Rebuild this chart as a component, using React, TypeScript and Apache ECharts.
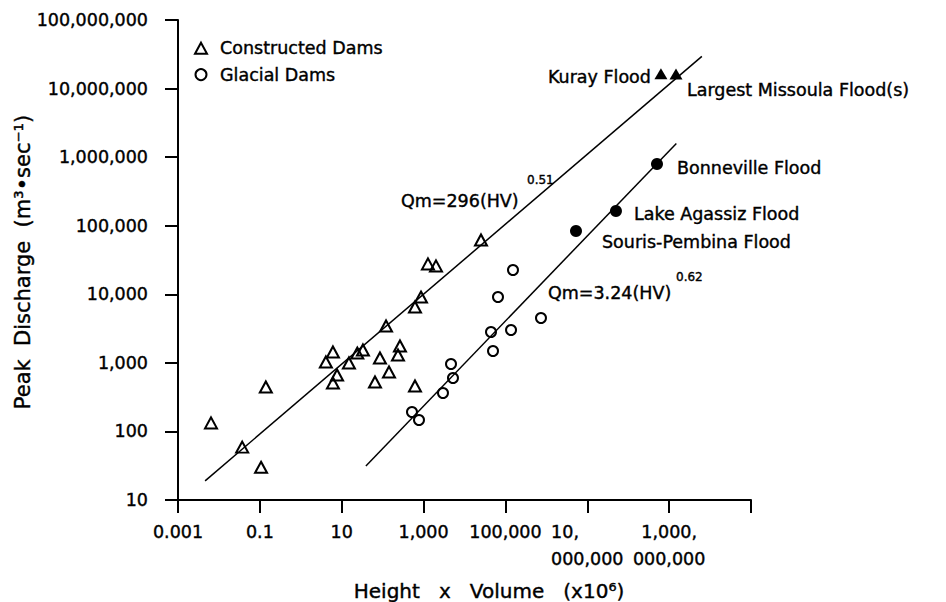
import React, { useEffect, useRef } from 'react';
import * as echarts from 'echarts';

// ---- data: height x volume (x10^6) against peak discharge (m^3/s) ----

// constructed (man-made) dam failures
const damHV = [0.0064, 0.037, 0.14, 0.107, 4.1, 6.1, 7.7, 6.1, 15, 24, 33, 65, 86, 143, 121, 237, 265, 617, 617, 865, 1280, 2010, 25300];
const damQ = [133, 59, 445, 30, 1030, 1440, 665, 508, 995, 1390, 1540, 526, 1178, 736, 3450, 1303, 1763, 460, 6530, 9120, 27700, 25900, 61900];

// historic glacial-dam outbursts
const glacialHV = [153000, 65800, 739000, 44400, 137000, 49700, 4680, 5230, 2980, 521, 773];
const glacialQ = [22600, 9120, 4510, 2820, 3010, 1490, 962, 601, 363, 192, 147];

// prehistoric ice-dammed megafloods (filled triangles)
const iceFloodNames = ['Kuray Flood', 'Largest Missoula Flood(s)'];
const iceFloodHV = [6.3e8, 1.47e9];
const iceFloodQ = [1.65e7, 1.63e7];

// prehistoric lake-breakout floods (filled circles)
const lakeFloodNames = ['Bonneville Flood', 'Lake Agassiz Flood', 'Souris-Pembina Flood'];
const lakeFloodHV = [5.05e8, 5.02e7, 5.3e6];
const lakeFloodQ = [794000, 164000, 83700];

// regression lines Qm = a (HV)^b, drawn over the HV span they cover
const fitCoef = [296, 3.24];
const fitExp = [0.51, 0.62];
const fitFrom = [0.0046, 39];
const fitTo = [6.3e9, 1.5e9];

// tick labels, one per labelled decade
const xTickLabels = ['0.001', '0.1', '10', '1,000', '100,000', '10,        \n000,000', '1,000,\n000,000', ''];
const yTickLabels = ['10', '100', '1,000', '10,000', '100,000', '1,000,000', '10,000,000', '100,000,000'];

// ---- styling ----
const FONT = 'DejaVu Sans';
const INK = '#000';
const TXT = 17.5;
const HEAVY = 0.4; // slight outline so the type reads a little heavier

// label placement for the named floods: [align, dx, dy]
const iceLabelPlace: [string, number, number][] = [
  ['right', -10, 3],
  ['left', 11, 16],
];
const lakeLabelPlace: [string, number, number][] = [
  ['left', 20, 4],
  ['left', 18, 3],
  ['left', 26, 11],
];

const lg = (v: number) => Math.log10(v);

const textLook = {
  color: INK,
  fontFamily: FONT,
  fontSize: TXT,
  textBorderColor: INK,
  textBorderWidth: HEAVY,
};

function fitLine(i: number) {
  return [fitFrom[i], fitTo[i]].map((hv) => [lg(hv), lg(fitCoef[i]) + fitExp[i] * lg(hv)]);
}

function namedPoints(names: string[], hv: number[], q: number[], place: [string, number, number][]) {
  return names.map((n, i) => ({
    name: n,
    value: [lg(hv[i]), lg(q[i])],
    label: {
      show: true,
      position: 'inside',
      align: place[i][0],
      verticalAlign: 'middle',
      offset: [place[i][1], place[i][2]],
      formatter: '{b}',
      ...textLook,
    },
  }));
}

function note(text: string, x: number, y: number, size: number, extra: any = {}) {
  return {
    type: 'text',
    x,
    y,
    ...extra,
    style: {
      text,
      fill: INK,
      stroke: INK,
      lineWidth: HEAVY,
      fontFamily: FONT,
      fontSize: size,
      align: extra.rotation ? 'center' : extra.align || 'left',
      verticalAlign: 'middle',
    },
  };
}

const hollow = { color: 'rgba(255,255,255,0)', borderColor: INK, borderWidth: 2, opacity: 1 };

const option: any = {
  animation: false,
  backgroundColor: '#fff',
  grid: { left: 178, top: 20, width: 573, height: 480 },
  legend: {
    data: ['Constructed Dams', 'Glacial Dams'],
    orient: 'vertical',
    left: 189,
    top: 34,
    itemWidth: 12,
    itemHeight: 11,
    itemGap: 8,
    selectedMode: false,
    textStyle: { ...textLook, padding: [0, 0, 0, 8] },
  },
  xAxis: {
    type: 'value',
    min: -3,
    max: 11,
    interval: 2,
    axisLine: { show: true, onZero: false, lineStyle: { color: INK, width: 2 } },
    axisTick: { show: true, length: 13, lineStyle: { color: INK, width: 2 } },
    splitLine: { show: false },
    axisLabel: {
      ...textLook,
      margin: 18,
      lineHeight: 27,
      showMinLabel: true,
      showMaxLabel: true,
      formatter: (v: number) => xTickLabels[Math.round((v + 3) / 2)] ?? '',
    },
  },
  yAxis: {
    type: 'value',
    min: 1,
    max: 8,
    interval: 1,
    axisLine: { show: true, onZero: false, lineStyle: { color: INK, width: 2 } },
    axisTick: { show: true, length: 13, lineStyle: { color: INK, width: 2 } },
    splitLine: { show: false },
    axisLabel: {
      ...textLook,
      margin: 30,
      showMinLabel: true,
      showMaxLabel: true,
      formatter: (v: number) => yTickLabels[Math.round(v - 1)] ?? '',
    },
  },
  series: [
    {
      type: 'line',
      data: fitLine(0),
      symbol: 'none',
      silent: true,
      lineStyle: { color: INK, width: 1.5 },
    },
    {
      type: 'line',
      data: fitLine(1),
      symbol: 'none',
      silent: true,
      lineStyle: { color: INK, width: 1.5 },
    },
    {
      name: 'Constructed Dams',
      type: 'scatter',
      symbol: 'triangle',
      symbolSize: [12, 11],
      itemStyle: hollow,
      data: damHV.map((h, i) => [lg(h), lg(damQ[i])]),
    },
    {
      name: 'Glacial Dams',
      type: 'scatter',
      symbol: 'circle',
      symbolSize: 10,
      itemStyle: hollow,
      data: glacialHV.map((h, i) => [lg(h), lg(glacialQ[i])]),
    },
    {
      name: 'Ice-dam floods',
      type: 'scatter',
      symbol: 'triangle',
      symbolSize: [13, 11],
      itemStyle: { color: INK, opacity: 1 },
      data: namedPoints(iceFloodNames, iceFloodHV, iceFloodQ, iceLabelPlace),
    },
    {
      name: 'Lake floods',
      type: 'scatter',
      symbol: 'circle',
      symbolSize: 12,
      itemStyle: { color: INK, opacity: 1 },
      data: namedPoints(lakeFloodNames, lakeFloodHV, lakeFloodQ, lakeLabelPlace),
    },
  ],
  graphic: [
    note('Qm=296(HV)', 401, 201, TXT),
    note('0.51', 527, 180, 12),
    note('Qm=3.24(HV)', 548, 293, TXT),
    note('0.62', 676, 277, 12),
    note('Peak  Discharge  (m³•sec⁻¹)', 23, 262, 21, { rotation: Math.PI / 2 }),
    note('Height   x   Volume   (x10⁶)', 489, 591, 20, { align: 'center' }),
  ],
};

export default function App() {
  const ref = useRef<HTMLDivElement>(null);
  useEffect(() => {
    if (!ref.current) return;
    const chart = echarts.init(ref.current, undefined, { renderer: 'svg' });
    chart.setOption(option);
    return () => chart.dispose();
  }, []);
  return <div ref={ref} style={{ position: 'absolute', left: 0, top: 0, width: 946, height: 602 }} />;
}
